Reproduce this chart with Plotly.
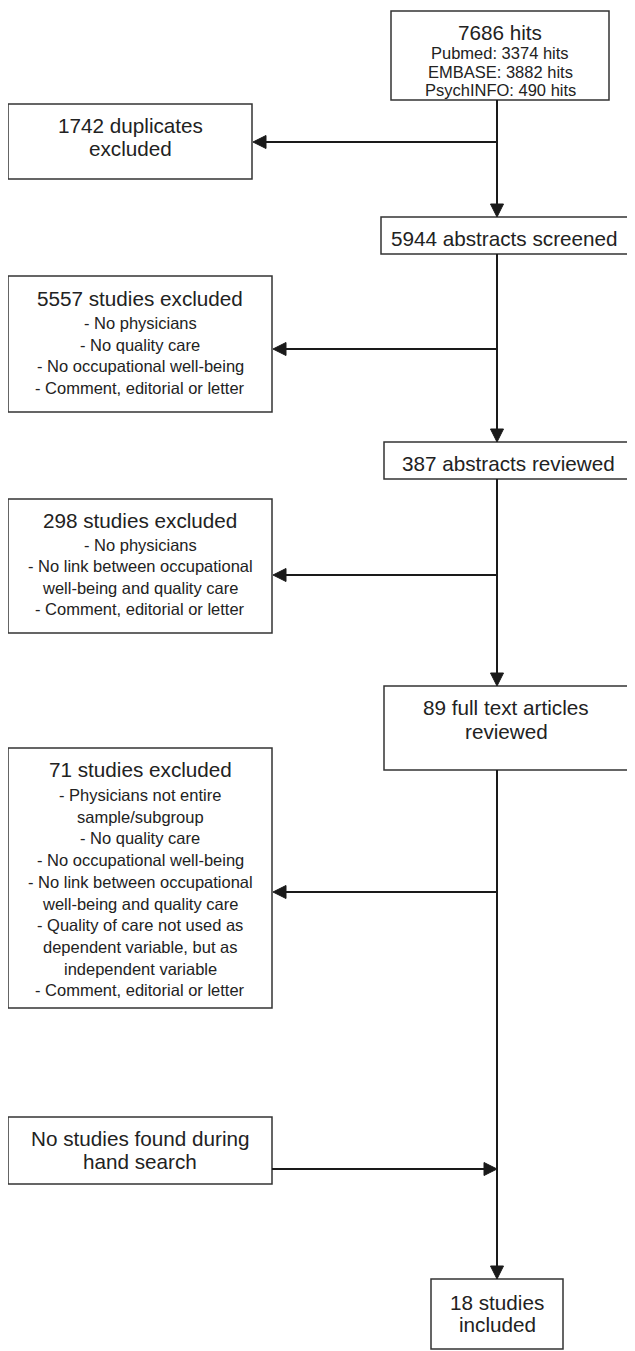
import plotly.graph_objects as go

# ---- content (text) ----
titles = [
    "7686 hits",
    "1742 duplicates<br>excluded",
    "5944 abstracts screened",
    "5557 studies excluded",
    "387 abstracts reviewed",
    "298 studies excluded",
    "89 full text articles<br>reviewed",
    "71 studies excluded",
    "No studies found during<br>hand search",
    "18 studies<br>included",
]
items = [
    ["Pubmed: 3374 hits", "EMBASE: 3882 hits", "PsychINFO: 490 hits"],
    [],
    [],
    ["- No physicians", "- No quality care", "- No occupational well-being",
     "- Comment, editorial or letter"],
    [],
    ["- No physicians", "- No link between occupational",
     "well-being and quality care", "- Comment, editorial or letter"],
    [],
    ["- Physicians not entire", "sample/subgroup", "- No quality care",
     "- No occupational well-being", "- No link between occupational",
     "well-being and quality care", "- Quality of care not used as",
     "dependent variable, but as", "independent variable",
     "- Comment, editorial or letter"],
    [],
    [],
]

# ---- layout geometry (screen pixels, y downward) ----
W, H = 635, 1351
OFF = 8  # page body margin
boxes = [  # x0, x1, y0, y1, first title line y, title line gap, first item y, item spacing
    (391, 609, 11, 100, 32, 23, 53, 18.5),
    (8, 252, 104, 179, 125, 23, 0, 0),
    (381, 628, 217, 254, 238, 23, 0, 0),
    (8, 272, 276, 412, 298, 23, 323, 21.7),
    (384, 632, 442, 479, 463, 23, 0, 0),
    (8, 272, 499, 633, 520, 23, 545, 21.4),
    (384, 628, 686, 770, 707, 24, 0, 0),
    (8, 272, 748, 1008, 769, 23, 795, 21.7),
    (8, 272, 1117, 1184, 1138, 23, 0, 0),
    (431, 563, 1279, 1349, 1302, 22, 0, 0),
]
spine_x = 497
spine = [(0, 2), (2, 4), (4, 6), (6, 9)]                 # box -> box, downward arrow
side_arrows = [(1, 142), (3, 349), (5, 575), (7, 892)]   # spine -> left box
in_arrow = (8, 1169)                                     # left box -> spine

LINE = "#1a1a1a"
BORDER = "#333333"
TXT = "#222222"
FONT = "Liberation Sans, Arial, sans-serif"
HL, HW = 13, 6.5  # arrowhead length, half-width

fig = go.Figure()
shapes = []
ann = []

def tri(tx, ty, dx, dy):
    bx, by = tx - dx * HL, ty - dy * HL
    px, py = -dy, dx
    return dict(type="path",
                path=f"M {tx},{ty} L {bx + px*HW},{by + py*HW} L {bx - px*HW},{by - py*HW} Z",
                fillcolor=LINE, line=dict(color=LINE, width=1), layer="above")

def line(x0, y0, x1, y1):
    return dict(type="line", x0=x0, y0=y0, x1=x1, y1=y1,
                line=dict(color=LINE, width=2))

for a, b in spine:
    y_from = boxes[a][3]
    y_to = boxes[b][2]
    shapes.append(line(spine_x, y_from, spine_x, y_to - HL + 1))
    shapes.append(tri(spine_x, y_to, 0, 1))
for b, y in side_arrows:
    xr = boxes[b][1]
    shapes.append(line(spine_x, y, xr + HL - 1, y))
    shapes.append(tri(xr + 1, y, -1, 0))
b, y = in_arrow
shapes.append(line(boxes[b][1], y, spine_x - HL + 1, y))
shapes.append(tri(spine_x, y, 1, 0))

for i, (x0, x1, y0, y1, ty, tg, iy, isp) in enumerate(boxes):
    shapes.append(dict(type="rect", x0=x0, x1=x1, y0=y0, y1=y1,
                       line=dict(color=BORDER, width=1.5),
                       fillcolor="white", layer="below"))
    cx = (x0 + x1) / 2
    for k, t in enumerate(titles[i].split("<br>")):
        ann.append(dict(x=cx, y=ty + k * tg, text=t, showarrow=False,
                        xanchor="center", yanchor="middle",
                        font=dict(family=FONT, size=20.7, color=TXT)))
    for k, t in enumerate(items[i]):
        ann.append(dict(x=cx, y=iy + k * isp, text=t, showarrow=False,
                        xanchor="center", yanchor="middle",
                        font=dict(family=FONT, size=16.5, color=TXT)))

fig.update_layout(
    width=W - OFF, height=H - OFF, margin=dict(l=0, r=0, t=0, b=0),
    paper_bgcolor="white", plot_bgcolor="white",
    xaxis=dict(range=[OFF, W], visible=False, fixedrange=True),
    yaxis=dict(range=[H, OFF], visible=False, fixedrange=True),
    shapes=shapes, annotations=ann, showlegend=False,
)
fig.write_html("out.html")
